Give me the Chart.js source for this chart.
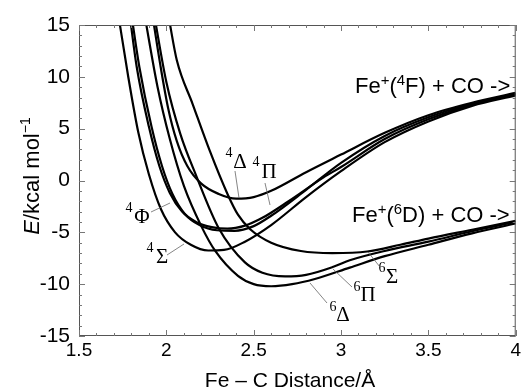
<!DOCTYPE html>
<html>
<head>
<meta charset="utf-8">
<script src="https://cdn.jsdelivr.net/npm/chart.js@4.4.1/dist/chart.umd.min.js"></script>
<style>
  html, body { margin: 0; padding: 0; background: #fff; }
  canvas { display: block; }
</style>
</head>
<body>
<canvas id="pes" width="524" height="390"></canvas>
<script>
// --- data: Fe-C distance (Å) vs energy (kcal/mol) ---
const dist4Sigma = [1.725, 1.78, 1.84, 1.9, 1.97, 2.05, 2.14, 2.24, 2.33, 2.45, 2.6, 2.8, 3.0, 3.25, 3.5, 3.75, 4.0];
const e4Sigma    = [16, 10.2, 4.6, 0.6, -2.8, -5.0, -6.2, -6.75, -6.7, -5.9, -4.3, -1.6, 0.9, 3.7, 5.7, 7.2, 8.2];

const dist4Phi = [1.79, 1.83, 1.9, 1.96, 2.02, 2.09, 2.17, 2.26, 2.35, 2.45, 2.55, 2.7, 2.9, 3.0, 3.25, 3.5, 3.75, 4.0];
const e4Phi    = [16, 11, 5.2, 1.4, -1.2, -3.0, -4.0, -4.5, -4.65, -4.35, -3.6, -2.0, 0.3, 1.3, 4.0, 5.9, 7.3, 8.3];

const dist4Pi = [1.8, 1.845, 1.915, 1.975, 2.035, 2.105, 2.19, 2.29, 2.39, 2.5, 2.6, 2.8, 3.0, 3.25, 3.5, 3.75, 4.0];
const e4Pi    = [16, 11, 5.2, 1.4, -1.3, -3.2, -4.3, -4.8, -4.85, -4.4, -3.4, -0.9, 1.7, 4.3, 6.1, 7.4, 8.35];

const dist4Delta = [1.92, 1.965, 2.01, 2.06, 2.12, 2.2, 2.3, 2.4, 2.5, 2.6, 2.8, 3.0, 3.25, 3.5, 3.75, 4.0];
const e4Delta    = [16, 11.2, 7.0, 3.8, 1.4, -0.3, -1.3, -1.75, -1.6, -1.0, 0.8, 2.5, 4.6, 6.3, 7.5, 8.45];

const dist6Delta = [1.875, 1.95, 2.02, 2.1, 2.2, 2.28, 2.41, 2.5, 2.6, 2.72, 2.85, 3.05, 3.25, 3.5, 3.75, 4.0];
const e6Delta    = [16, 9, 4, -0.5, -4.4, -6.8, -9.2, -10.0, -10.2, -10.0, -9.5, -8.4, -7.3, -6.2, -5.1, -4.15];

const dist6Pi = [1.93, 2.0, 2.08, 2.17, 2.3, 2.45, 2.55, 2.68, 2.8, 2.96, 3.05, 3.25, 3.5, 3.75, 4.0];
const e6Pi    = [16, 9.5, 4.5, 0.5, -4.6, -7.9, -8.9, -9.25, -9.1, -8.3, -7.7, -6.8, -5.9, -4.9, -4.0];

const dist6Sigma = [2.015, 2.06, 2.15, 2.25, 2.35, 2.41, 2.48, 2.6, 2.77, 2.95, 3.15, 3.34, 3.5, 3.75, 4.0];
const e6Sigma    = [15.6, 11.6, 7.4, 2.8, -1.3, -3.3, -4.7, -6.0, -6.8, -7.0, -6.85, -6.2, -5.6, -4.75, -3.9];

const xTickLabels = ['1.5', '2', '2.5', '3', '3.5', '4'];
const yTickLabels = ['-15', '-10', '-5', '0', '5', '10', '15'];

// state labels: superscript, letter
const stateSups    = ['4', '4', '4', '4', '6', '6', '6'];
const stateLetters = ['Δ', 'Π', 'Φ', 'Σ', 'Δ', 'Π', 'Σ'];

const SANS = '"Liberation Sans", Arial, Helvetica, sans-serif';
const SERIF = '"Liberation Serif", "Times New Roman", serif';

function curve(xs, ys) {
  return {
    data: xs.map((x, i) => ({ x: x, y: ys[i] })),
    showLine: true,
    borderColor: '#000',
    borderWidth: 2.2,
    pointRadius: 0,
    cubicInterpolationMode: 'monotone',
    fill: false
  };
}

// label placement (pixels) + leader lines
const stateLabelPos = [
  { sx: 229, sy: 153, gx: 240, gy: 162, l: [235, 171, 239, 198] },
  { sx: 256, sy: 162, gx: 269, gy: 172, l: [265, 183, 270, 205] },
  { sx: 129, sy: 208, gx: 142, gy: 217, l: [151, 212, 170, 203] },
  { sx: 150, sy: 248, gx: 162, gy: 257, l: [167, 255, 184, 244] },
  { sx: 333, sy: 307, gx: 343, gy: 315, l: [327, 303, 310, 283] },
  { sx: 357, sy: 287, gx: 368, gy: 295, l: [352, 287, 333, 269] },
  { sx: 382, sy: 268, gx: 392, gy: 277, l: [380, 267, 368, 252] }
];

function drawPieces(ctx, x, y, pieces) {
  // pieces: [text, font, dy]
  let cx = x;
  pieces.forEach(p => {
    ctx.font = p[1];
    ctx.fillText(p[0], cx, y + (p[2] || 0));
    cx += ctx.measureText(p[0]).width;
  });
}

const decorPlugin = {
  id: 'decor',
  afterDraw(chart) {
    const ctx = chart.ctx;
    const xs = chart.scales.x, ys = chart.scales.y;
    const a = chart.chartArea;
    ctx.save();

    // frame
    ctx.strokeStyle = '#555';
    ctx.lineWidth = 1;
    ctx.strokeRect(a.left + 0.5, a.top + 0.5, a.right - a.left - 1, a.bottom - a.top - 1);

    // inward ticks on all four sides
    ctx.strokeStyle = '#777';
    ctx.beginPath();
    for (let i = 0; i <= 25; i++) {
      const v = 1.5 + i * 0.1;
      const px = Math.round(xs.getPixelForValue(v)) + 0.5;
      const len = i % 5 === 0 ? 6 : 3;
      ctx.moveTo(px, a.bottom); ctx.lineTo(px, a.bottom - len);
      ctx.moveTo(px, a.top); ctx.lineTo(px, a.top + len);
    }
    for (let v = -15; v <= 15; v++) {
      const py = Math.round(ys.getPixelForValue(v)) + 0.5;
      const len = v % 5 === 0 ? 6 : 3;
      ctx.moveTo(a.left, py); ctx.lineTo(a.left + len, py);
      ctx.moveTo(a.right, py); ctx.lineTo(a.right - len, py);
    }
    ctx.stroke();

    // state labels
    ctx.fillStyle = '#000';
    ctx.strokeStyle = '#666';
    ctx.lineWidth = 0.8;
    stateLabelPos.forEach((p, i) => {
      ctx.textAlign = 'center';
      ctx.textBaseline = 'middle';
      ctx.font = '14px ' + SERIF;
      ctx.fillText(stateSups[i], p.sx, p.sy);
      ctx.font = '21px ' + SERIF;
      ctx.fillText(stateLetters[i], p.gx, p.gy);
      ctx.beginPath();
      ctx.moveTo(p.l[0], p.l[1]);
      ctx.lineTo(p.l[2], p.l[3]);
      ctx.stroke();
    });

    // asymptote labels
    ctx.textAlign = 'left';
    ctx.textBaseline = 'alphabetic';
    const big = '22px ' + SANS, small = '15px ' + SANS;
    drawPieces(ctx, 355, 93, [['Fe', big], ['+', small, -8], ['(', big], ['4', small, -8], ['F) + CO ->', big]]);
    drawPieces(ctx, 352, 222, [['Fe', big], ['+', small, -8], ['(', big], ['6', small, -8], ['D) + CO ->', big]]);

    // x axis title
    ctx.font = '21px ' + SANS;
    ctx.textAlign = 'center';
    ctx.fillText('Fe \u2013 C Distance/Å', 290, 387);

    // y axis title
    ctx.translate(31, 176);
    ctx.rotate(-Math.PI / 2);
    ctx.textAlign = 'left';
    const yPieces = [['E', 'italic 22px ' + SANS], ['/kcal mol', '22px ' + SANS], ['\u22121', '14px ' + SANS, -9]];
    let w = 0;
    yPieces.forEach(p => { ctx.font = p[1]; w += ctx.measureText(p[0]).width; });
    drawPieces(ctx, -w / 2, 8, yPieces);

    ctx.restore();
  }
};

new Chart(document.getElementById('pes'), {
  type: 'scatter',
  data: {
    datasets: [
      curve(dist4Sigma, e4Sigma),
      curve(dist4Phi, e4Phi),
      curve(dist4Pi, e4Pi),
      curve(dist4Delta, e4Delta),
      curve(dist6Delta, e6Delta),
      curve(dist6Pi, e6Pi),
      curve(dist6Sigma, e6Sigma)
    ]
  },
  options: {
    responsive: false,
    animation: false,
    devicePixelRatio: 1,
    layout: { padding: { top: 25, right: 8, left: 0, bottom: 0 } },
    plugins: { legend: { display: false }, tooltip: { enabled: false } },
    scales: {
      x: {
        type: 'linear', min: 1.5, max: 4,
        grid: { display: false, drawTicks: false },
        border: { display: false },
        afterFit: s => { s.height = 54; },
        afterBuildTicks: s => { s.ticks = xTickLabels.map(t => ({ value: parseFloat(t) })); },
        ticks: {
          color: '#000', padding: 3,
          font: { family: SANS, size: 19 },
          callback: (v, i) => xTickLabels[i]
        }
      },
      y: {
        type: 'linear', min: -15, max: 15,
        grid: { display: false, drawTicks: false },
        border: { display: false },
        afterFit: s => { s.width = 79; },
        afterBuildTicks: s => { s.ticks = yTickLabels.map(t => ({ value: parseFloat(t) })); },
        ticks: {
          color: '#000', padding: 9,
          font: { family: SANS, size: 21 },
          callback: (v, i) => yTickLabels[i]
        }
      }
    }
  },
  plugins: [decorPlugin]
});
</script>
</body>
</html>
